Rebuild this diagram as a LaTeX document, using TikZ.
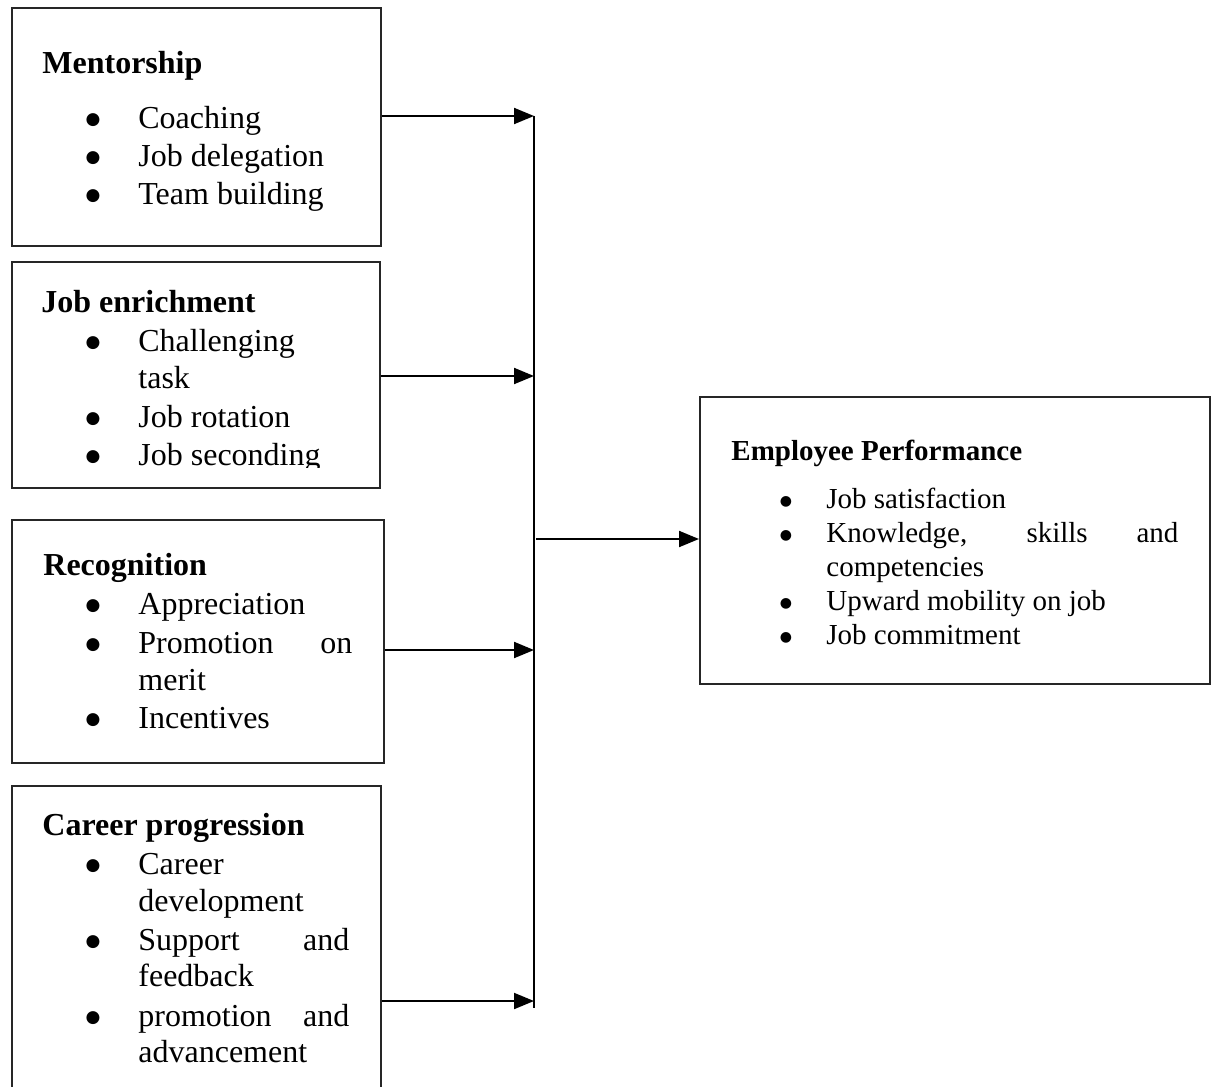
\documentclass[tikz,border=0pt]{standalone}
\usepackage{fontspec}
\setmainfont{Liberation Serif}
\newfontfamily\bulfont{DejaVu Sans}
\usetikzlibrary{arrows.meta}
\newcommand\lbul[4]{\node[bul] (#1b) at (93,#2) {\raisebox{1.7pt}{●}};\node[itm] (#1) at (#3,#2) {#4};}
\newcommand\rbul[3]{\node[ebul] (#1b) at (786,#2) {\raisebox{1.4pt}{●}};\node[eitm] (#1) at (826,#2) {#3};}
\begin{document}
\begin{tikzpicture}[x=0.5pt,y=-0.5pt,
  box/.style={draw=black!85, line width=0.9pt, anchor=north west, inner sep=0pt},
  ttl/.style={anchor=base west, inner sep=0pt, font=\fontsize{16}{19}\selectfont\bfseries},
  itm/.style={anchor=base west, inner sep=0pt, font=\fontsize{16}{19}\selectfont},
  bul/.style={anchor=base, inner sep=0pt, font=\bulfont\fontsize{8.5}{10}\selectfont},
  ettl/.style={anchor=base west, inner sep=0pt, font=\fontsize{14.5}{17}\selectfont\bfseries},
  eitm/.style={anchor=base west, inner sep=0pt, font=\fontsize{14.5}{17}\selectfont},
  ebul/.style={anchor=base, inner sep=0pt, font=\bulfont\fontsize{7}{8}\selectfont},
  arr/.style={line width=1pt, -{Triangle[length=10pt,width=8pt]}},
  vline/.style={line width=0.75pt}]
\useasboundingbox (0,0) rectangle (1214,1086);
\clip (0,0) rectangle (1214,1086);
\fill[white] (0,0) rectangle (1214,1086);
% boxes
\node[box, minimum width=184.5pt, minimum height=119pt] (mb) at (11,7) {};
\node[box, minimum width=184pt, minimum height=113pt] (jb) at (11,261) {};
\node[box, minimum width=186pt, minimum height=121.5pt] (rb) at (11,519) {};
\node[box, minimum width=184.5pt, minimum height=160pt] (cb) at (11,785) {};
\node[box, minimum width=255pt, minimum height=143.5pt] (eb) at (699,396) {};
% Mentorship
\node[ttl] (mt) at (42,74) {Mentorship};
\lbul{m1}{128}{138}{Coaching}
\lbul{m2}{166}{138}{Job delegation}
\lbul{m3}{204}{138}{Team building}
% Job enrichment
\begin{scope}
\clip (11,261) rectangle (379,467);
\node[ttl] (jt) at (41,312) {Job enrichment};
\lbul{j1}{351}{138}{Challenging}
\node[itm] (j1c) at (138,388) {task};
\lbul{j2}{427}{138}{Job rotation}
\lbul{j3}{465}{138}{Job seconding}
\end{scope}
% Recognition
\node[ttl] (rt) at (43,575) {Recognition};
\lbul{r1}{614}{138}{Appreciation}
\lbul{r2}{653}{138}{\makebox[107pt][s]{Promotion on}}
\node[itm] (r2c) at (138,690) {merit};
\lbul{r3}{728}{138}{Incentives}
% Career progression
\node[ttl] (ct) at (42,835) {Career progression};
\lbul{c1}{874}{138}{Career}
\node[itm] (c1c) at (138,911) {development};
\lbul{c2}{950}{138}{\makebox[105.5pt][s]{Support and}}
\node[itm] (c2c) at (138,986) {feedback};
\lbul{c3}{1026}{138}{\makebox[105.5pt][s]{promotion and}}
\node[itm] (c3c) at (138,1062) {advancement};
% Employee Performance
\node[ettl] (et) at (731,460) {Employee Performance};
\rbul{e1}{508}{Job satisfaction}
\rbul{e2}{542}{\makebox[176pt][s]{Knowledge, skills and}}
\node[eitm] (e2c) at (826,576) {competencies};
\rbul{e3}{610}{Upward mobility on job}
\rbul{e4}{644}{Job commitment}
% connectors
\coordinate (v1) at (534,116);
\coordinate (v2) at (534,376);
\coordinate (v3) at (534,650);
\coordinate (v4) at (534,1001);
\coordinate (vb) at (534,1008);
\coordinate (ve) at (536,539);
\draw[vline] (v1) -- (vb);
\draw[arr] (mb.east |- v1) -- (v1);
\draw[arr] (jb.east |- v2) -- (v2);
\draw[arr] (rb.east |- v3) -- (v3);
\draw[arr] (cb.east |- v4) -- (v4);
\draw[arr] (ve) -- (eb.west |- ve);
\end{tikzpicture}
\end{document}
